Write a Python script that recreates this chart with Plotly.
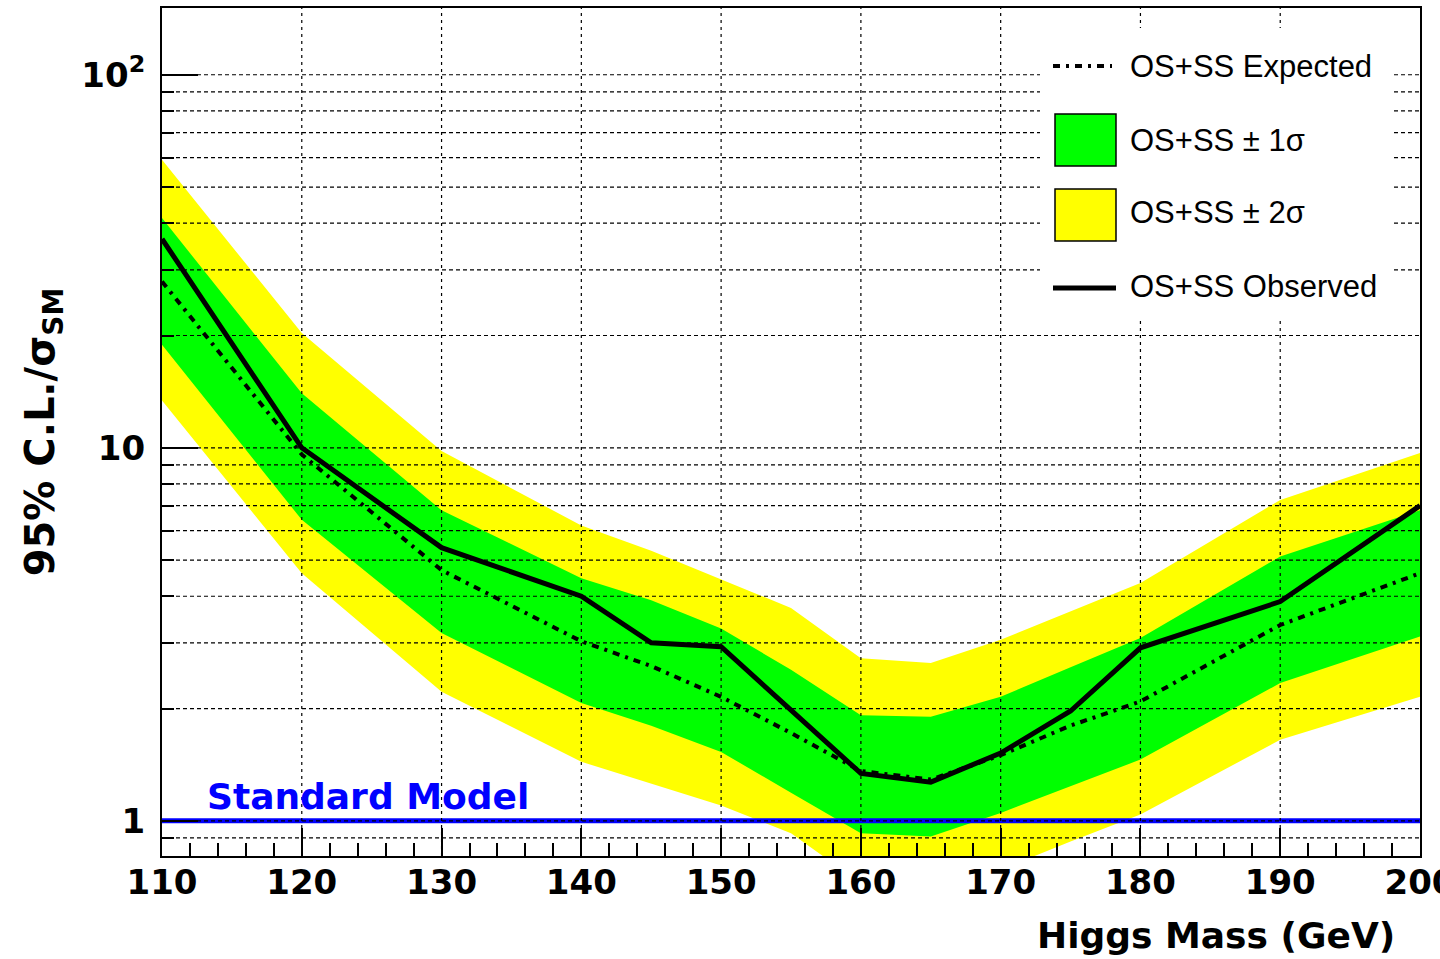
import numpy as np
import plotly.graph_objects as go

# Higgs mass points (GeV)
mass = [110, 120, 130, 140, 145, 150, 155, 160, 165, 170, 175, 180, 190, 200]

# 95% C.L. limit / sigma_SM
observed = [36.3, 10.0, 5.4, 4.0, 3.0, 2.93, 1.98, 1.34, 1.27, 1.52, 1.97, 2.91, 3.87, 7.0]
expected = [27.9, 9.6, 4.7, 3.03, 2.6, 2.15, 1.72, 1.36, 1.29, 1.5, 1.8, 2.09, 3.35, 4.61]

# expected-limit bands
band1_up = [41.3, 14.0, 6.8, 4.47, 3.9, 3.28, 2.54, 1.92, 1.90, 2.15, 2.58, 3.09, 5.11, 6.8]
band1_lo = [18.9, 6.41, 3.19, 2.07, 1.8, 1.53, 1.19, 0.927, 0.908, 1.05, 1.24, 1.46, 2.34, 3.12]
band2_up = [59.2, 20.3, 9.8, 6.19, 5.3, 4.43, 3.72, 2.73, 2.65, 3.06, 3.64, 4.34, 7.25, 9.68]
band2_lo = [13.4, 4.61, 2.22, 1.44, 1.26, 1.10, 0.927, 0.68, 0.67, 0.74, 0.88, 1.04, 1.65, 2.15]

# Standard Model reference
sm_mass = [110, 200]
sm_level = [1, 1]

# axis ticks
x_major = [110, 120, 130, 140, 150, 160, 170, 180, 190, 200]
y_major = [1, 10, 100]
y_major_text = ["1", "10", "10<sup>2</sup>"]
y_minor = [0.9, 2, 3, 4, 5, 6, 7, 8, 9, 20, 30, 40, 50, 60, 70, 80, 90]

# legend labels
lbl_expected = "OS+SS Expected"
lbl_band1 = "OS+SS \u00b1 1\u03c3"
lbl_band2 = "OS+SS \u00b1 2\u03c3"
lbl_observed = "OS+SS Observed"

BOLD = dict(family="DejaVu Sans", weight="bold", color="black")
REG = dict(family="Liberation Sans", color="black")

YELLOW = "#FFFF00"
GREEN = "#00FF00"
BLUE = "#0000FF"
EXP_DASH = "7px,6px,3px,6px"

fig = go.Figure()

fig.add_trace(go.Scatter(
    x=mass + mass[::-1], y=band2_up + band2_lo[::-1],
    fill="toself", fillcolor=YELLOW, line=dict(width=0, color=YELLOW),
    mode="lines", name=lbl_band2, hoverinfo="skip"))
fig.add_trace(go.Scatter(
    x=mass + mass[::-1], y=band1_up + band1_lo[::-1],
    fill="toself", fillcolor=GREEN, line=dict(width=0, color=GREEN),
    mode="lines", name=lbl_band1, hoverinfo="skip"))
fig.add_trace(go.Scatter(
    x=sm_mass, y=sm_level, mode="lines", name="Standard Model",
    line=dict(color=BLUE, width=5)))
fig.add_trace(go.Scatter(
    x=mass, y=expected, mode="lines", name=lbl_expected,
    line=dict(color="black", width=4, dash=EXP_DASH)))
fig.add_trace(go.Scatter(
    x=mass, y=observed, mode="lines", name=lbl_observed,
    line=dict(color="black", width=5)))

# dashed grid drawn over the bands
shapes = []
for xv in x_major[1:-1]:
    shapes.append(dict(type="line", xref="x", yref="y domain", x0=xv, x1=xv,
                       y0=0, y1=1, layer="above",
                       line=dict(color="black", width=1.2, dash="3px,4px")))
for yv in sorted(y_minor + y_major):
    shapes.append(dict(type="line", xref="x domain", yref="y", x0=0, x1=1,
                       y0=yv, y1=yv, layer="above",
                       line=dict(color="black", width=1.2, dash="4px,3px")))

# legend box (ROOT-style key with large swatches), positioned in pixels
W, H = 1440, 959
L, R, T, B = 162, 20, 8, 103
PW, PH = W - L - R, H - T - B


def px(x):
    return (x - L) / PW


def py(y):
    return (H - B - y) / PH


shapes.append(dict(type="rect", xref="paper", yref="paper", layer="above",
                   x0=px(1040), x1=px(1392), y0=py(318), y1=py(28),
                   fillcolor="white", line=dict(width=0)))
shapes.append(dict(type="line", xref="paper", yref="paper", layer="above",
                   x0=px(1053), x1=px(1112), y0=py(66), y1=py(66),
                   line=dict(color="black", width=4, dash=EXP_DASH)))
shapes.append(dict(type="rect", xref="paper", yref="paper", layer="above",
                   x0=px(1055), x1=px(1116), y0=py(166), y1=py(114),
                   fillcolor=GREEN, line=dict(color="black", width=1.5)))
shapes.append(dict(type="rect", xref="paper", yref="paper", layer="above",
                   x0=px(1055), x1=px(1116), y0=py(241), y1=py(189),
                   fillcolor=YELLOW, line=dict(color="black", width=1.5)))
shapes.append(dict(type="line", xref="paper", yref="paper", layer="above",
                   x0=px(1053), x1=px(1116), y0=py(288), y1=py(288),
                   line=dict(color="black", width=5)))

annotations = [
    dict(text="Standard Model", x=113.1, y=np.log10(1.16), xref="x", yref="y",
         xanchor="left", yanchor="middle", showarrow=False,
         font=dict(BOLD, size=36, color=BLUE)),
    dict(text="Higgs Mass (GeV)", x=px(1397), y=py(935),
         xref="paper", yref="paper", xanchor="right", yanchor="middle",
         showarrow=False, font=dict(BOLD, size=36)),
]
for text, yc in [(lbl_expected, 66), (lbl_band1, 140), (lbl_band2, 212), (lbl_observed, 286)]:
    annotations.append(dict(text=text, x=px(1128), y=py(yc), xref="paper", yref="paper",
                            xanchor="left", yanchor="middle", showarrow=False,
                            font=dict(REG, size=31)))

fig.update_layout(
    width=W, height=H,
    margin=dict(l=L, r=R, t=T, b=B, autoexpand=False),
    paper_bgcolor="white", plot_bgcolor="white",
    shapes=shapes, annotations=annotations,
    showlegend=False,
)

fig.update_xaxes(
    range=[110, 200], tickvals=x_major, ticks="inside", ticklen=28, tickwidth=2,
    tickcolor="black", showgrid=False, zeroline=False, automargin=False,
    showline=True, linecolor="black", linewidth=2, mirror=True,
    tickfont=dict(BOLD, size=34), ticklabelstandoff=-5, ticklabeloverflow="allow",
    minor=dict(dtick=2, ticks="inside", ticklen=13, tickwidth=1.5, tickcolor="black"),
)
fig.update_yaxes(
    type="log", range=[np.log10(0.805), np.log10(151)], automargin=False,
    tickvals=y_major, ticktext=y_major_text, ticks="inside", ticklen=36, tickwidth=2,
    tickcolor="black", showgrid=False, zeroline=False,
    showline=True, linecolor="black", linewidth=2, mirror=True,
    tickfont=dict(BOLD, size=34), ticklabelstandoff=8,
    minor=dict(tickvals=y_minor, ticks="inside", ticklen=12, tickwidth=1.5,
               tickcolor="black"),
    title=dict(text="95% C.L./\u03c3<sub>SM</sub>", standoff=14,
               font=dict(BOLD, size=40)),
)

fig.write_html("out.html")
